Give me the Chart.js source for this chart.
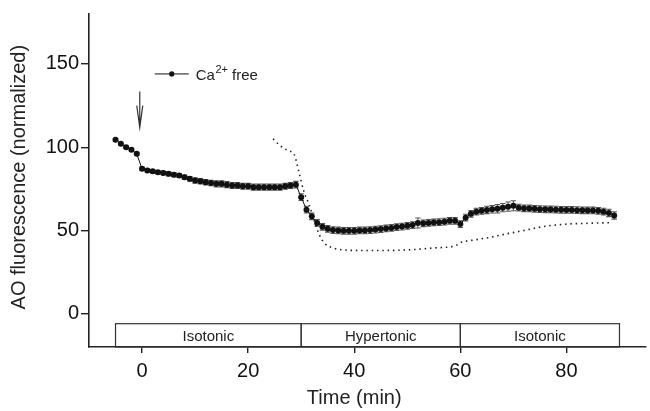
<!DOCTYPE html>
<html>
<head>
<meta charset="utf-8">
<script src="https://cdn.jsdelivr.net/npm/chart.js@4.4.1/dist/chart.umd.min.js"></script>
<style>
  html, body { margin: 0; padding: 0; background: #fff; }
</style>
</head>
<body>
<canvas id="myChart" width="650" height="411"></canvas>
<script>
const FONT = "'Liberation Sans', Arial, Helvetica, sans-serif";

// Ca2+ free series, one reading per minute (mean and error)
const times = [-5, -4, -3, -2, -1, 0, 1, 2, 3, 4, 5, 6, 7, 8, 9, 10, 11, 12, 13, 14,
    15, 16, 17, 18, 19, 20, 21, 22, 23, 24, 25, 26, 27, 28, 29, 30, 31, 32, 33, 34,
    35, 36, 37, 38, 39, 40, 41, 42, 43, 44, 45, 46, 47, 48, 49, 50, 51, 52, 53, 54,
    55, 56, 57, 58, 59, 60, 61, 62, 63, 64, 65, 66, 67, 68, 69, 70, 71, 72, 73, 74,
    75, 76, 77, 78, 79, 80, 81, 82, 83, 84, 85, 86, 87, 88, 89];
const values = [104.5, 102, 100, 98.5, 96, 87, 86, 85.5, 85, 84.5, 84, 83.5, 83, 82, 81, 80, 79.5, 79, 78.5, 78,
    78, 77.5, 77, 77, 76.5, 76.5, 76, 76, 76, 76, 76, 76, 76.5, 77, 77.5, 70, 62.5, 58.5, 54.5, 52.2,
    51, 50.2, 50, 49.8, 49.8, 49.8, 50, 50, 50.2, 50.5, 50.8, 51.2, 51.5, 52, 52.3, 52.8, 53.2, 54.5, 54.3, 54.5,
    54.8, 55, 55.3, 55.8, 55.8, 53.8, 57.7, 60, 61.3, 61.8, 62.3, 62.7, 63, 63.7, 64.3, 64.8, 63.7, 63.3, 63.2, 63,
    62.8, 62.7, 62.6, 62.5, 62.4, 62.3, 62.3, 62.2, 62.1, 62, 62, 61.8, 61.3, 60.5, 59];
const errors = [0.6, 0.6, 0.6, 0.6, 0.6, 1, 1, 1, 1, 1, 1.2, 1.2, 1.2, 1.2, 1.4, 1.6, 1.6, 1.6, 1.6, 1.8,
    1.8, 1.8, 1.8, 1.8, 1.8, 1.8, 1.8, 1.8, 1.8, 1.8, 1.8, 1.8, 1.8, 1.8, 2, 2, 2, 2, 2, 2,
    2, 2, 2, 2, 2, 2, 2, 2, 2, 2, 2, 2, 2, 2, 2, 2, 2, 3, 2, 2,
    2, 2, 2, 2, 2, 2, 2, 2, 2, 2, 2.2, 2.2, 2.5, 2.5, 2.8, 3, 2, 2, 2, 2,
    2, 2, 2, 2, 2, 2, 2, 2, 2, 2, 2, 2, 2, 2.2, 2.2];

// dotted reference trace
const dotTimes = [24.7, 26, 27.5, 28.7, 29.5, 30.5, 31.5, 32.5, 33.4, 34.5, 36, 38, 41, 45, 50,
    55, 59, 60.3, 62, 65, 68, 72, 76, 80, 84, 88.5];
const dotValues = [105, 101, 98, 95.5, 86, 73.5, 65.5, 55.5, 47.5, 42, 39.5, 38.3, 38, 38, 38.3,
    39.5, 40.8, 43, 44, 45.5, 47.5, 50, 52.5, 53.8, 54.3, 54.7];

// condition bars under the traces
const segStart = [-5, 30, 60];
const segEnd = [30, 60, 90];
const segLabels = ['Isotonic', 'Hypertonic', 'Isotonic'];

const xTicks = [0, 20, 40, 60, 80];
const yTicks = [0, 50, 100, 150];

const extras = {
    id: 'extras',
    beforeDatasetsDraw(chart) {
        const { ctx } = chart;
        const x = chart.scales.x, y = chart.scales.y;
        ctx.save();
        ctx.strokeStyle = '#555';
        ctx.lineWidth = 1.1;
        times.forEach((t, i) => {
            const px = x.getPixelForValue(t);
            const top = y.getPixelForValue(values[i] + errors[i]);
            const bot = y.getPixelForValue(values[i] - errors[i]);
            ctx.beginPath();
            ctx.moveTo(px, top); ctx.lineTo(px, bot);
            ctx.moveTo(px - 2.7, top); ctx.lineTo(px + 2.7, top);
            ctx.moveTo(px - 2.7, bot); ctx.lineTo(px + 2.7, bot);
            ctx.stroke();
        });
        ctx.restore();
    },
    afterDraw(chart) {
        const { ctx } = chart;
        const x = chart.scales.x, y = chart.scales.y;
        ctx.save();

        // condition boxes
        ctx.strokeStyle = '#333';
        ctx.lineWidth = 1.2;
        ctx.fillStyle = '#222';
        ctx.font = '15px ' + FONT;
        ctx.textAlign = 'center';
        ctx.textBaseline = 'alphabetic';
        const bTop = y.getPixelForValue(-6);
        const bBot = y.getPixelForValue(-20);
        segLabels.forEach((lab, i) => {
            const x0 = x.getPixelForValue(segStart[i]);
            const x1 = x.getPixelForValue(segEnd[i]);
            ctx.strokeRect(x0, bTop, x1 - x0, bBot - bTop);
            ctx.fillText(lab, (x0 + x1) / 2, bTop + 17.5);
        });

        // arrow marking Ca2+ removal
        const ax = x.getPixelForValue(-0.43);
        const aTop = y.getPixelForValue(133.5);
        const aTip = y.getPixelForValue(111.8);
        ctx.strokeStyle = '#333';
        ctx.lineWidth = 1.2;
        ctx.beginPath();
        ctx.moveTo(ax, aTop); ctx.lineTo(ax, aTip);
        ctx.moveTo(ax - 3, aTip - 22); ctx.lineTo(ax, aTip); ctx.lineTo(ax + 3, aTip - 22);
        ctx.stroke();

        // legend
        const ly = y.getPixelForValue(144);
        const lx0 = x.getPixelForValue(2.4);
        const lx1 = x.getPixelForValue(8.8);
        ctx.strokeStyle = '#111';
        ctx.lineWidth = 1;
        ctx.beginPath();
        ctx.moveTo(lx0, ly); ctx.lineTo(lx1, ly);
        ctx.stroke();
        ctx.fillStyle = '#111';
        ctx.beginPath();
        ctx.arc((lx0 + lx1) / 2, ly, 2.6, 0, Math.PI * 2);
        ctx.fill();
        ctx.textAlign = 'left';
        ctx.fillStyle = '#222';
        let tx = lx1 + 7;
        ctx.font = '15px ' + FONT;
        ctx.fillText('Ca', tx, ly + 6);
        tx += ctx.measureText('Ca').width + 0.5;
        ctx.font = '11px ' + FONT;
        ctx.fillText('2+', tx, ly - 0.5);
        tx += ctx.measureText('2+').width;
        ctx.font = '15px ' + FONT;
        ctx.fillText(' free', tx, ly + 6);

        // axis titles
        ctx.font = '20px ' + FONT;
        ctx.fillStyle = '#222';
        ctx.textAlign = 'center';
        ctx.fillText('Time (min)', x.getPixelForValue(40), 404);
        ctx.translate(25, y.getPixelForValue(82));
        ctx.rotate(-Math.PI / 2);
        ctx.fillText('AO fluorescence (normalized)', 0, 0);
        ctx.restore();
    }
};

const ctx = document.getElementById('myChart').getContext('2d');
const myChart = new Chart(ctx, {
    type: 'line',
    data: {
        datasets: [{
            label: 'Ca2+ free',
            data: times.map((t, i) => ({ x: t, y: values[i] })),
            borderColor: '#111',
            borderWidth: 1,
            pointRadius: 3,
            pointBackgroundColor: '#111',
            pointBorderWidth: 0,
            tension: 0
        }, {
            label: 'reference',
            data: dotTimes.map((t, i) => ({ x: t, y: dotValues[i] })),
            borderColor: '#222',
            borderWidth: 1.6,
            borderDash: [1.5, 3.8],
            pointRadius: 0,
            cubicInterpolationMode: 'monotone'
        }]
    },
    options: {
        responsive: false,
        animation: false,
        layout: { padding: { top: 10, right: 1, left: 0, bottom: 0 } },
        plugins: {
            legend: { display: false },
            tooltip: { enabled: false }
        },
        scales: {
            x: {
                type: 'linear',
                min: -10,
                max: 95,
                afterBuildTicks: s => { s.ticks = xTicks.map(v => ({ value: v })); },
                afterFit: s => { s.height = 64; },
                border: { color: '#222', width: 1.6 },
                grid: { drawOnChartArea: false, tickLength: 6, color: '#222', lineWidth: 1.4 },
                ticks: { color: '#111', padding: 6, font: { size: 20, family: FONT } }
            },
            y: {
                min: -20,
                max: 180,
                afterBuildTicks: s => { s.ticks = yTicks.map(v => ({ value: v })); },
                afterFit: s => { s.width = 89; },
                border: { color: '#222', width: 1.6 },
                grid: { drawOnChartArea: false, tickLength: 8, color: '#222', lineWidth: 1.4 },
                ticks: { color: '#111', padding: 2, font: { size: 20, family: FONT } }
            }
        }
    },
    plugins: [extras]
});
</script>
</body>
</html>
